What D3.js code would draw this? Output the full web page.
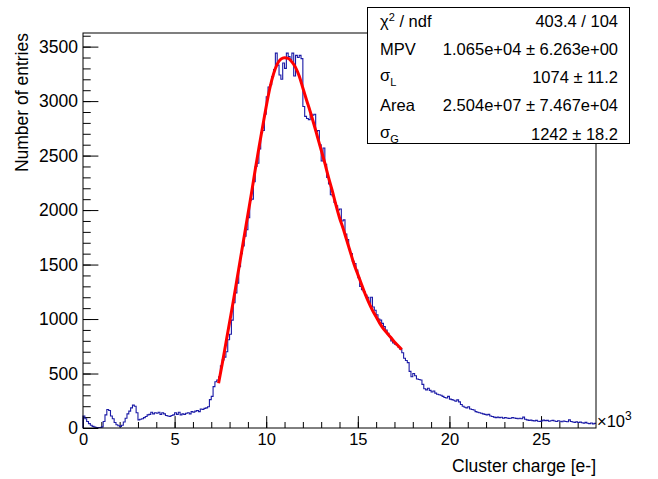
<!DOCTYPE html>
<html>
<head>
<meta charset="utf-8">
<script src="https://cdn.jsdelivr.net/npm/d3@7.9.0/dist/d3.min.js"></script>
<style>
  body { margin: 0; background: #fff; }
  svg { display: block; font-family: "Liberation Sans", Arial, Helvetica, sans-serif; }
</style>
</head>
<body>
<svg id="chart" width="658" height="479"></svg>
<script>
// histogram: bins of 0.1 (x10^3 e-) starting at 0
const binWidth = 0.1;
const counts = [
  110, 85, 60, 40, 25, 15, 8, 5, 4, 4,
  10, 60, 120, 170, 160, 110, 85, 50, 30, 20,
  15, 25, 55, 90, 130, 155, 185, 210, 200, 140,
  75, 80, 85, 95, 105, 120, 125, 145, 130, 140,
  135, 145, 125, 140, 130, 115, 110, 105, 115, 120,
  140, 125, 145, 120, 130, 125, 135, 140, 130, 150,
  145, 155, 160, 150, 175, 170, 180, 185, 195, 260,
  290, 380, 425, 440, 470, 570, 625, 650, 700, 810,
  860, 990, 1150, 1240, 1330, 1480, 1600, 1670, 1760, 1820,
  1930, 2090, 2100, 2260, 2400, 2430, 2560, 2710, 2730, 2880,
  3040, 3130, 3150, 3225, 3290, 3440, 3330, 3240, 3200, 3350,
  3300, 3440, 3410, 3380, 3440, 3230, 3420, 3400, 3420, 3390,
  2950, 2860, 2840, 2830, 2880, 2870, 2880, 2720, 2730, 2600,
  2450, 2570, 2420, 2300, 2240, 2140, 2130, 2070, 2040, 2000,
  2010, 1900, 1910, 1780, 1730, 1640, 1600, 1530, 1510, 1450,
  1380, 1300, 1270, 1250, 1220, 1200, 1140, 1200, 1110, 1080,
  1040, 1000, 990, 960, 930, 900, 870, 840, 800, 780,
  770, 760, 740, 720, 690, 640, 620, 600, 520, 470,
  500, 480, 450, 445, 440, 400, 360, 350, 365, 345,
  330, 340, 320, 310, 305, 300, 290, 280, 275, 290,
  265, 260, 255, 245, 258, 240, 215, 200, 190, 185,
  195, 175, 170, 165, 150, 145, 140, 135, 130, 125,
  120, 125, 110, 105, 100, 95, 100, 95, 98, 90,
  95, 92, 88, 90, 95, 92, 88, 85, 90, 85,
  100, 80, 75, 70, 72, 68, 65, 70, 62, 60,
  65, 72, 68, 70, 62, 66, 70, 64, 60, 66,
  62, 58, 64, 60, 57, 75, 60, 55, 52, 58,
  50, 54, 48, 45, 52, 44, 40, 46, 38, 42
];

// Landau (x) Gauss fit
const fitCharge = [7.4, 7.6, 7.8, 8.0, 8.2, 8.4, 8.6, 8.8, 9.0, 9.2, 9.4, 9.6, 9.8,
  10.0, 10.2, 10.4, 10.6, 10.8, 11.0, 11.2, 11.4, 11.6, 11.8, 12.0, 12.2, 12.4, 12.6, 12.8,
  13.0, 13.2, 13.4, 13.6, 13.8, 14.0, 14.2, 14.4, 14.6, 14.8, 15.0, 15.2, 15.4, 15.6, 15.8,
  16.0, 16.2, 16.4, 16.6, 16.8, 17.0, 17.2, 17.4];
const fitEntries = [410, 590, 780, 970, 1160, 1360, 1560, 1760, 1960, 2160, 2370, 2570, 2760,
  2950, 3120, 3250, 3340, 3385, 3398, 3392, 3360, 3310, 3230, 3120, 3010, 2905, 2790, 2670,
  2550, 2430, 2300, 2180, 2050, 1930, 1830, 1720, 1610, 1500, 1410, 1320, 1230, 1150, 1080,
  1020, 960, 910, 870, 830, 790, 755, 720];

const xTicks = [0, 5, 10, 15, 20, 25];
const yTicks = [0, 500, 1000, 1500, 2000, 2500, 3000, 3500];

const statNames = ['χ', 'MPV', 'σ', 'Area', 'σ'];
const statSubs = ['', '', 'L', '', 'G'];
const statValues = ['403.4 / 104', '1.065e+04 ± 6.263e+00', '1074 ± 11.2', '2.504e+07 ± 7.467e+04', '1242 ± 18.2'];

const svg = d3.select('#chart');
const frameL = 83, frameR = 596, frameT = 33, frameB = 428;

const x = d3.scaleLinear().domain([0, 28]).range([frameL, frameR]);
const y = d3.scaleLinear().domain([0, 3625]).range([frameB, frameT]);

// minor ticks
svg.append('g')
  .attr('transform', `translate(${frameL},0)`)
  .call(d3.axisLeft(y).tickValues(d3.range(0, 3700, 100)).tickSize(-7.7).tickFormat(''))
  .call(g => g.select('.domain').remove());
svg.append('g')
  .attr('transform', `translate(0,${frameB})`)
  .call(d3.axisBottom(x).tickValues(d3.range(0, 28, 1)).tickSize(-6).tickFormat(''))
  .call(g => g.select('.domain').remove());

// major ticks with labels
svg.append('g')
  .attr('transform', `translate(${frameL},0)`)
  .call(d3.axisLeft(y).tickValues(yTicks).tickSize(-15.4).tickPadding(5).tickFormat(d3.format('d')))
  .call(g => g.select('.domain').remove())
  .call(g => g.selectAll('text').attr('font-size', 17.5).attr('font-family', null).attr('fill', '#000'));
svg.append('g')
  .attr('transform', `translate(0,${frameB})`)
  .call(d3.axisBottom(x).tickValues(xTicks).tickSize(-11.9).tickPadding(5).tickFormat(d3.format('d')))
  .call(g => g.select('.domain').remove())
  .call(g => g.selectAll('text').attr('font-size', 16.5).attr('font-family', null).attr('fill', '#000'));

svg.selectAll('.tick line').attr('stroke', '#000');

// histogram outline
const histPts = [[0, 0]].concat(counts.map((c, i) => [i * binWidth, c]));
histPts.push([counts.length * binWidth, counts[counts.length - 1]]);
const stepLine = d3.line().x(d => x(d[0])).y(d => y(d[1])).curve(d3.curveStepAfter);
svg.append('path')
  .attr('d', stepLine(histPts))
  .attr('fill', 'none')
  .attr('stroke', '#1a1aa6')
  .attr('stroke-width', 1.1);

// fit curve
const fitLine = d3.line().x((d, i) => x(fitCharge[i])).y(d => y(d)).curve(d3.curveMonotoneX);
svg.append('path')
  .attr('d', fitLine(fitEntries))
  .attr('fill', 'none')
  .attr('stroke', '#ff0000')
  .attr('stroke-width', 3);

// frame
svg.append('rect')
  .attr('x', frameL).attr('y', frameT)
  .attr('width', frameR - frameL).attr('height', frameB - frameT)
  .attr('fill', 'none').attr('stroke', '#000').attr('stroke-width', 1);

// axis titles
svg.append('text')
  .attr('transform', `translate(28,${frameT}) rotate(-90)`)
  .attr('text-anchor', 'end')
  .attr('font-size', 17.5)
  .text('Number of entries');
svg.append('text')
  .attr('x', frameR).attr('y', 472)
  .attr('text-anchor', 'end')
  .attr('font-size', 17.5)
  .text('Cluster charge [e-]');
const mult = svg.append('text').attr('x', 597).attr('y', 427).attr('font-size', 16.5);
mult.append('tspan').text('×10');
mult.append('tspan').attr('dy', -7).attr('font-size', 12).text('3');

// stats box
svg.append('rect')
  .attr('x', 367.5).attr('y', 7.5)
  .attr('width', 262).attr('height', 136)
  .attr('fill', '#fff').attr('stroke', '#000').attr('stroke-width', 1);

const rowBase = d3.scalePoint().domain(d3.range(statNames.length)).range([27, 139.5]);
statNames.forEach((name, i) => {
  const t = svg.append('text').attr('x', 380).attr('y', rowBase(i) - (statSubs[i] ? 2 : 0)).attr('font-size', 16.5);
  t.append('tspan').text(name);
  if (i === 0) {
    t.append('tspan').attr('dy', -6).attr('font-size', 11).text('2');
    t.append('tspan').attr('dy', 6).text(' / ndf');
  }
  if (statSubs[i]) t.append('tspan').attr('dy', 5).attr('font-size', 11).text(statSubs[i]);
  svg.append('text')
    .attr('x', 618).attr('y', rowBase(i))
    .attr('text-anchor', 'end')
    .attr('font-size', 16.5)
    .text(statValues[i]);
});
</script>
</body>
</html>
